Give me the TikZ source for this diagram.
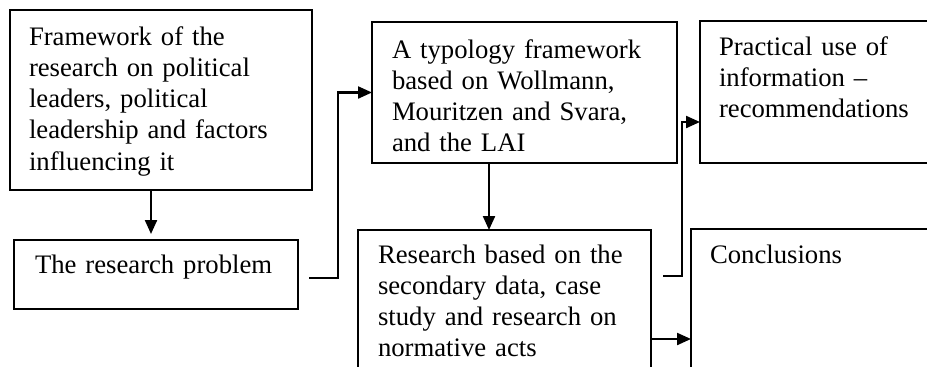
\documentclass[tikz,border=0pt]{standalone}
\usepackage{fontspec}
\setmainfont{Liberation Serif}
\usetikzlibrary{arrows.meta}
\tikzset{
  box/.style={draw=black, line width=1.5pt, rectangle, inner sep=0pt, outer sep=0pt, anchor=north west},
  txt/.style={anchor=base west, inner sep=0pt, outer sep=0pt, text width=300pt, align=left,
              font=\fontsize{26.7}{31.3}\selectfont},
  conn/.style={draw=black, line width=2.2pt, -{Triangle[length=14pt,width=12pt]}}
}
\begin{document}
\begin{tikzpicture}[x=1pt,y=-1pt]
\useasboundingbox (0,0) rectangle (927,367);
\fill[white] (0,0) rectangle (927,367);
\clip (0,0) rectangle (927,367);
% boxes
\node[box, minimum width=302pt, minimum height=180pt] (b1) at (10,10) {};
\node[box, minimum width=284pt, minimum height=69pt] (b2) at (14,240) {};
\node[box, minimum width=305pt, minimum height=141pt] (b3) at (372,22) {};
\node[box, minimum width=293pt, minimum height=160pt] (b4) at (358,230) {};
\node[box, minimum width=250pt, minimum height=142pt] (b5) at (700,21) {};
\node[box, minimum width=260pt, minimum height=160pt] (b6) at (691,229) {};
% texts
\node[txt] (t1) at ([xshift=19pt,yshift=-35pt]b1.north west)
  {Framework of the\\research on political\\leaders, political\\leadership and factors\\influencing it};
\node[txt] (t2) at ([xshift=21pt,yshift=-33pt]b2.north west) {The research problem};
\node[txt] (t3) at ([xshift=20pt,yshift=-36pt]b3.north west)
  {A typology framework\\based on Wollmann,\\Mouritzen and Svara,\\and the LAI};
\node[txt] (t4) at ([xshift=20pt,yshift=-33pt]b4.north west)
  {Research based on the\\secondary data, case\\study and research on\\normative acts};
\node[txt] (t5) at ([xshift=19pt,yshift=-34pt]b5.north west)
  {Practical use of\\information --\\recommendations};
\node[txt] (t6) at ([xshift=19pt,yshift=-34pt]b6.north west) {Conclusions};
% connectors
\coordinate (s2) at ([xshift=11pt,yshift=-3.5pt]b2.east);
\coordinate (s4) at ([xshift=12pt,yshift=-46pt]b4.north east);
\coordinate (e5) at ([yshift=-101pt]b5.north west);
\coordinate (s5) at ([yshift=-109pt]b4.north east);
\draw[conn, shorten >=6pt] ([xshift=-10pt]b1.south) -- ([xshift=-10pt]b1.south |- b2.north);
\draw[conn] (s2) -| ([xshift=-34pt]b3.west) -- (b3.west);
\draw[conn] ([xshift=-35.5pt]b3.south) -- ([xshift=-35.5pt]b3.south |- b4.north);
\draw[conn] (s4) -| ([xshift=-18pt]e5) -- (e5);
\draw[conn] (s5) -- (s5 -| b6.west);
\end{tikzpicture}
\end{document}
